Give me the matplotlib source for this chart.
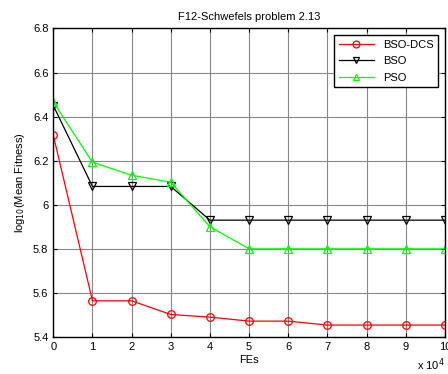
import matplotlib
matplotlib.use("Agg")
import matplotlib.pyplot as plt

plt.rcParams['font.family'] = ['Liberation Sans', 'DejaVu Sans']

fes = [0, 1, 2, 3, 4, 5, 6, 7, 8, 9, 10]  # in units of 1e4
bso_dcs = [6.315, 5.564, 5.564, 5.502, 5.490, 5.472, 5.472, 5.454, 5.454, 5.454, 5.454]
bso = [6.450, 6.083, 6.083, 6.083, 5.930, 5.930, 5.930, 5.930, 5.930, 5.930, 5.930]
pso = [6.466, 6.193, 6.134, 6.102, 5.900, 5.800, 5.800, 5.800, 5.800, 5.800, 5.800]

fig = plt.figure(figsize=(4.48, 3.74), dpi=100)
ax = fig.add_axes([0.119, 0.099, 0.874, 0.825])

ax.plot(fes, bso_dcs, color='#ff0000', marker='o', mfc='none', ms=5.5, lw=0.9, mew=0.9, label='BSO-DCS')
ax.plot(fes, bso, color='black', marker='v', mfc='none', ms=5.5, lw=0.9, mew=0.9, label='BSO')
ax.plot(fes, pso, color='#00ff00', marker='^', mfc='none', ms=5.5, lw=0.9, mew=0.9, label='PSO')

ax.set_xlim(0, 10)
ax.set_ylim(5.4, 6.8)
ax.set_xticks(range(0, 11))
ax.set_yticks([5.4, 5.6, 5.8, 6.0, 6.2, 6.4, 6.6, 6.8])
ax.set_yticklabels(['5.4', '5.6', '5.8', '6', '6.2', '6.4', '6.6', '6.8'])
ax.tick_params(direction='in', labelsize=8, length=3, top=True, right=True)
ax.grid(True, color='#888888', lw=0.8)
for s in ax.spines.values():
    s.set_linewidth(1.0)

ax.set_title('F12-Schwefels problem 2.13', fontsize=8, pad=6)
ax.set_xlabel('FEs', fontsize=8, labelpad=2)
ax.set_ylabel('log$_{10}$(Mean Fitness)', fontsize=8, labelpad=4)
fig.text(0.93, 0.012, r'x 10$^4$', fontsize=8)

leg = ax.legend(loc='upper right', fontsize=8, fancybox=False, framealpha=1,
                edgecolor='black', borderaxespad=0.6, handlelength=3.2,
                labelspacing=0.6, markerscale=0.9)
leg.get_frame().set_linewidth(1.0)

fig.savefig('out.png', dpi=100)
